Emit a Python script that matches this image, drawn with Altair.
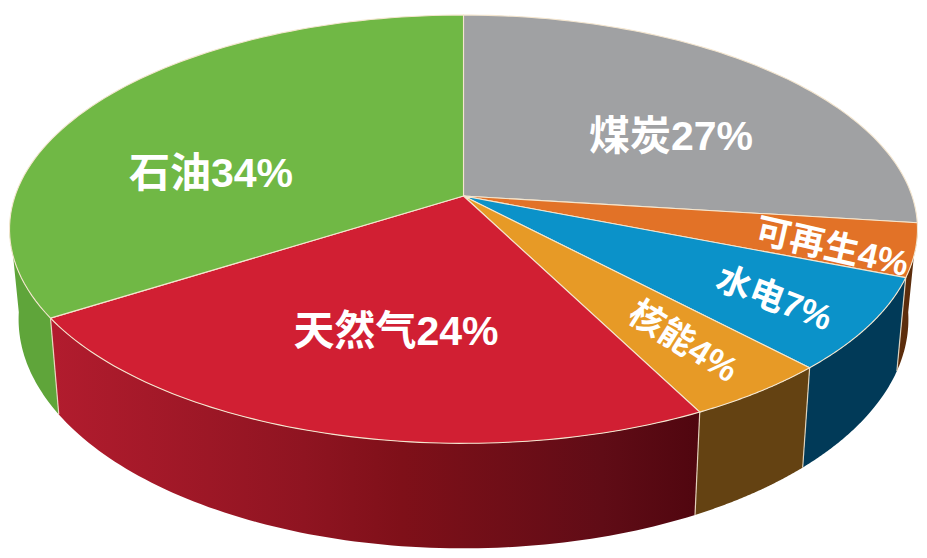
import math
import altair as alt

# Values, clockwise from the top of the disc
names = ["煤炭", "可再生", "水电", "核能", "天然气", "石油"]
printed = [27, 4, 7, 4, 24, 34]
# Angular spans as drawn in the picture, in percent of the circle
spans = [27, 4, 7, 4.5, 23.5, 34]

top_colors = ["#a0a1a3", "#e27227", "#0b92c9", "#e79a26", "#d11f33", "#70b845"]
side_colors = [None, "#5c2d0c", "#013a58", "#644212", None, "#5fa53a"]
red_stops = [(0, "#b21c2e"), (0.39, "#8f1421"), (0.54, "#7f1019"), (0.85, "#600c16"), (1, "#50060f")]
edge = "#f4e6cf"

# Perspective of the disc, in page pixels
CX, CY, RX, RY, K = 463.5, 196.0, 448.5, 209.0, 0.155
SHRINK = 0.98
# Percent of the circle at which the disc's left edge turns away from the viewer
LEFT_TURN = 73


def top(pct):
    t = pct / 100 * 2 * math.pi
    u, v = math.sin(t), math.cos(t)
    d = 1 + K * v
    return CX + RX * u / d, CY - RY * v / d


def drop(p):
    x, y = p
    return CX + (x - CX) * SHRINK, y + 74 + 0.07 * y


def arc(a, b, n=80):
    return [top(a + (b - a) * i / n) for i in range(n + 1)]


def poly(points, color=None):
    pts = [[x, y] for x, y in points]
    pts.append(pts[0])
    return {"type": "Feature", "properties": {"color": color},
            "geometry": {"type": "Polygon", "coordinates": [pts]}}


def line(points):
    return {"type": "Feature", "properties": {},
            "geometry": {"type": "LineString", "coordinates": [[x, y] for x, y in points]}}


proj = dict(type="identity", scale=1, translate=[-8, -8])
starts = [sum(spans[:i]) for i in range(len(spans))]
ends = [sum(spans[:i + 1]) for i in range(len(spans))]

top_faces, sides, seams = [], [], []
for s, e, tc, sc in zip(starts, ends, top_colors, side_colors):
    top_faces.append(poly([(CX, CY)] + arc(s, e), tc))
    # only the part of a wall that faces the viewer
    if sc:
        upper = arc(s, min(e, LEFT_TURN))
        sides.append(poly(upper + [drop(p) for p in reversed(upper)], sc))
for e in ends[1:-1]:
    p = top(e)
    seams.append(line([p, drop(p)]))

red_i = names.index("天然气")
red_upper = arc(starts[red_i], ends[red_i])
red_wall = [poly(red_upper + [drop(p) for p in reversed(red_upper)])]

# Frame: keeps the identity projection at one page pixel per unit
frame = [poly([(8, 8), (919, 8), (919, 550), (8, 550)], "#ffffff")]

frame_layer = (alt.Chart(alt.Data(values=frame)).mark_geoshape(stroke="transparent", strokeWidth=0)
               .encode(color=alt.Color("properties.color:N", scale=None, legend=None)).project(**proj))
side_layer = (alt.Chart(alt.Data(values=sides)).mark_geoshape(stroke="transparent", strokeWidth=0)
              .encode(color=alt.Color("properties.color:N", scale=None, legend=None)).project(**proj))
red_layer = (alt.Chart(alt.Data(values=red_wall))
             .mark_geoshape(stroke="transparent", strokeWidth=0,
                            fill={"gradient": "linear", "x1": 0, "x2": 1, "y1": 0, "y2": 0,
                                  "stops": [{"offset": o, "color": c} for o, c in red_stops]})
             .project(**proj))
seam_layer = (alt.Chart(alt.Data(values=seams))
              .mark_geoshape(filled=False, stroke=edge, strokeWidth=1.2, opacity=0.85).project(**proj))
top_layer = (alt.Chart(alt.Data(values=top_faces)).mark_geoshape(stroke=edge, strokeWidth=1.1)
             .encode(color=alt.Color("properties.color:N", scale=None, legend=None)).project(**proj))

# Label layout (page pixels, rotation, size), in the order of names
label_layout = [
    (671, 138, 0, 41),
    (832, 248, 13, 35),
    (774, 299, 21, 35),
    (683, 342, 32, 35),
    (396, 333, 0, 41),
    (211, 175, 0, 41),
]

layers = [frame_layer, side_layer, red_layer, seam_layer, top_layer]
for name, val, (px, py, rot, fs) in zip(names, printed, label_layout):
    layers.append(
        alt.Chart(alt.Data(values=[{"label": f"{name}{val}%"}]))
        .mark_text(font="Liberation Sans, Noto Sans CJK SC", fontWeight="bold", fontSize=fs,
                   color="#ffffff", angle=rot, align="center", baseline="middle")
        .encode(text="label:N", x=alt.value(px - 8), y=alt.value(py - 8))
    )

chart = (alt.layer(*layers)
         .properties(width=911, height=542, padding=0, background="#ffffff")
         .configure_view(strokeWidth=0))

chart.save("out.html", embed_options={"renderer": "svg", "actions": False})
